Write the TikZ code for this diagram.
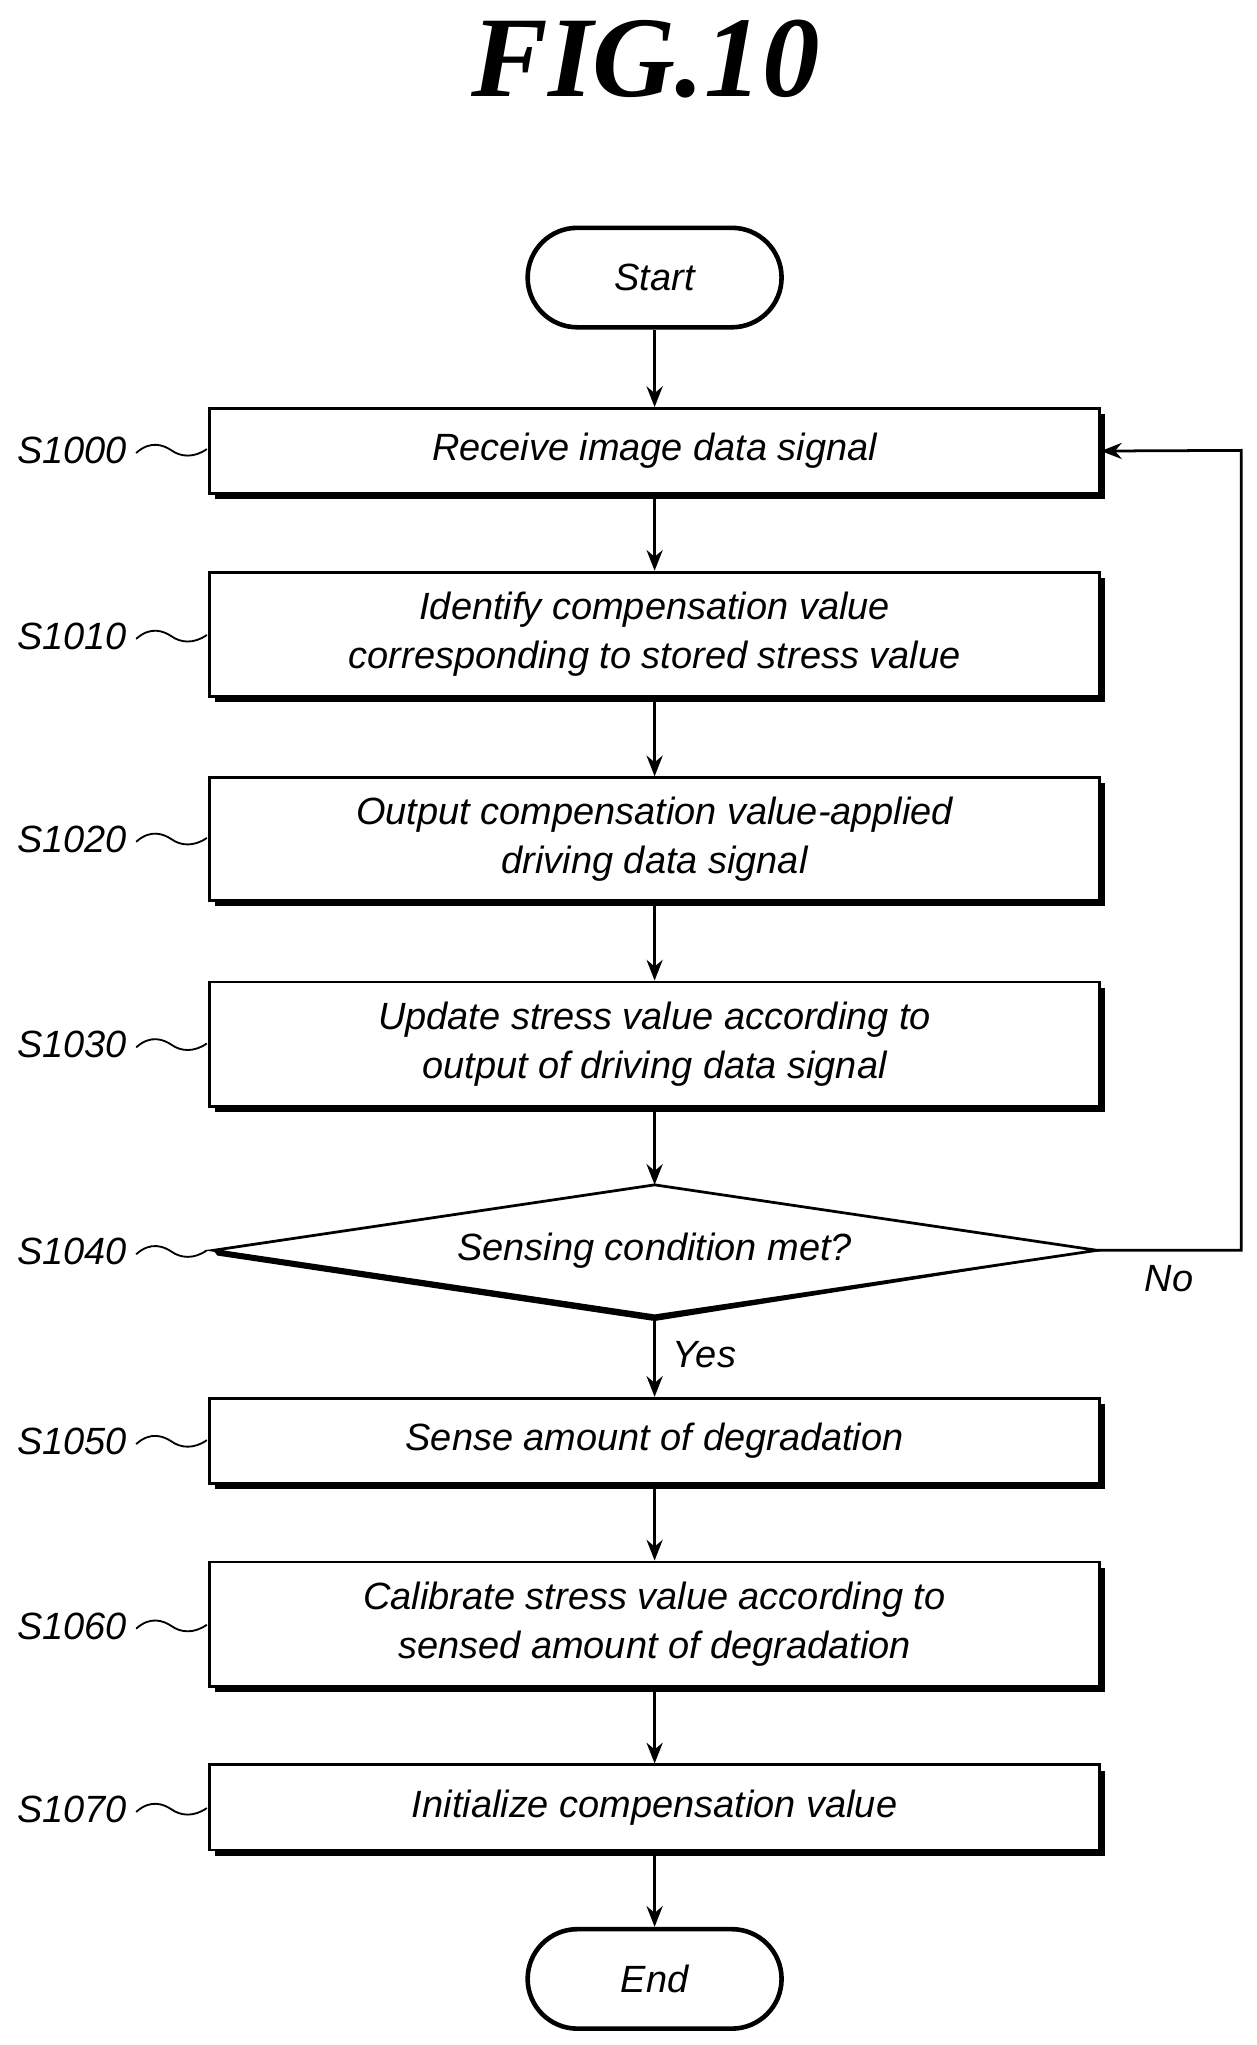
\documentclass[tikz,border=0pt]{standalone}
\usepackage{fontspec}
\setmainfont{Liberation Sans}
\newfontfamily\titlefont{Liberation Serif}
\usetikzlibrary{shadows,arrows.meta}
\begin{document}
\begin{tikzpicture}[x=0.02cm,y=-0.02cm,
  txt/.style={font=\fontsize{16.5}{21}\selectfont\itshape},
  box/.style={draw,line width=1.2pt,fill=white,minimum width=13.6cm,align=center,txt,
    drop shadow={shadow xshift=2.5pt,shadow yshift=-2.5pt,fill=black,opacity=1}},
  term/.style={draw,line width=2pt,fill=white,minimum width=3.88cm,minimum height=1.52cm,rounded corners=0.76cm,txt},
  arr/.style={line width=1.2pt,-{Stealth[length=9pt,width=7pt]}},
  lab/.style={txt}]
\useasboundingbox (0,0) rectangle (960,1562);
\node[font=\titlefont\fontsize{50}{50}\selectfont\bfseries\itshape] (title) at (493,45) {FIG.10};
\node[term] (start) at (500,212) {Start};
\node[box,minimum height=1.3cm] (b1) at (500,344.5) {Receive image data signal};
\node[box,minimum height=1.9cm] (b2) at (500,484.5) {Identify compensation value\\corresponding to stored stress value};
\node[box,minimum height=1.88cm] (b3) at (500,641) {Output compensation value-applied\\driving data signal};
\node[box,minimum height=1.9cm] (b4) at (500,797.5) {Update stress value according to\\output of driving data signal};
\coordinate (dt) at (500,905); \coordinate (db) at (500,1005);
\coordinate (dl) at (163,955); \coordinate (dr) at (838,955);
\fill (dl) -- (dt) -- (dr) -- (500,1009) -- (166,959) -- cycle;
\draw[line width=1.2pt,fill=white] (dl) -- (dt) -- (dr) -- (db) -- cycle;
\node[txt] (d) at (500,955) {Sensing condition met?};
\node[box,minimum height=1.3cm] (b5) at (500,1100.5) {Sense amount of degradation};
\node[box,minimum height=1.9cm] (b6) at (500,1240.5) {Calibrate stress value according to\\sensed amount of degradation};
\node[box,minimum height=1.3cm] (b7) at (500,1380.5) {Initialize compensation value};
\node[term] (end) at (500,1511.5) {End};
\draw[arr] (start) -- (b1);
\draw[arr] (b1) -- (b2);
\draw[arr] (b2) -- (b3);
\draw[arr] (b3) -- (b4);
\draw[arr] (b4) -- (dt);
\draw[arr] (db) -- (b5);
\draw[arr] (b5) -- (b6);
\draw[arr] (b6) -- (b7);
\draw[arr] (b7) -- (end);
\coordinate (c1) at (948,955); \coordinate (c2) at (948,344);
\draw[arr] (dr) -- (c1) -- (c2) -- (b1.east);
\node[txt] (no) at (893,977) {No};
\node[txt] (yes) at (538,1035) {Yes};
\foreach \n/\y in {1000/344,1010/486,1020/641,1030/798,1040/956,1050/1101,1060/1242,1070/1382}{
  \node[lab] (s\n) at (55,\y) {S\n};
  \draw[line width=0.8pt] (104,\y+2) .. controls (115,\y-8) and (125,\y-4) .. (131,\y) .. controls (138,\y+5) and (148,\y+6) .. (158,\y-1);
}
\end{tikzpicture}
\end{document}
